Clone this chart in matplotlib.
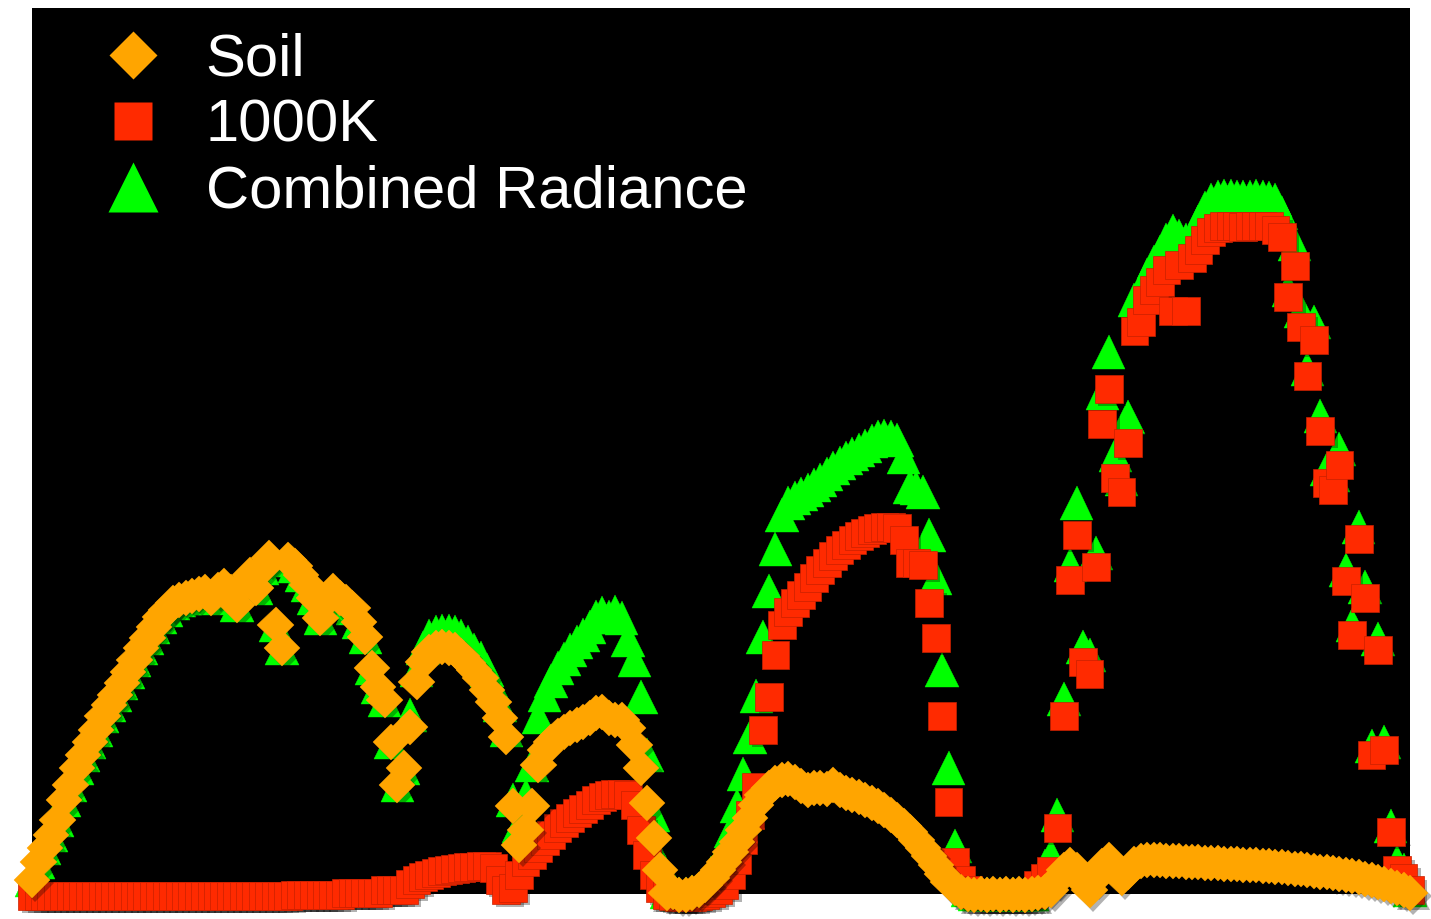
import numpy as np
import matplotlib
matplotlib.use('Agg')
import matplotlib.pyplot as plt
import matplotlib.patheffects as pe
from matplotlib.lines import Line2D

# wavelength grid (nm) shared by all three spectra
wavelength = np.arange(350, 2501, 10)

# radiance, arbitrary units
soil = [
    14, 32, 46, 59, 74, 94, 109, 126, 139, 152, 164, 178,
    189, 199, 211, 222, 234, 246, 256, 267, 277, 284, 291, 294,
    296, 298, 300, 302, 296, 304, 308, 302, 289, 309, 319, 306,
    326, 336, 269, 246, 334, 328, 319, 309, 296, 276, 294, 303,
    296, 292, 286, 272, 257, 226, 207, 194, 152, 109, 126, 167,
    212, 232, 242, 246, 247, 246, 244, 238, 231, 224, 216, 204,
    192, 176, 157, 88, 49, 64, 88, 129, 144, 152, 158, 162,
    166, 169, 172, 176, 181, 182, 176, 174, 174, 166, 149, 126,
    91, 56, 24, 1, 2, -1, -1, 1, 4, 9, 16, 24,
    32, 42, 52, 64, 76, 89, 99, 106, 111, 114, 115, 112,
    108, 104, 106, 106, 105, 109, 104, 101, 99, 97, 94, 91,
    88, 84, 79, 74, 68, 62, 54, 46, 38, 29, 20, 12,
    6, 2, 0, -1, 0, -1, 0, -1, 0, -1, 0, -1,
    0, 1, 2, 4, 14, 24, 29, 24, 12, 4, 16, 28,
    34, 26, 16, 22, 30, 33, 34, 34, 34, 33, 33, 33,
    32, 32, 32, 31, 31, 31, 30, 30, 30, 29, 29, 29,
    28, 28, 27, 27, 26, 25, 25, 24, 23, 22, 22, 21,
    20, 19, 18, 17, 15, 14, 12, 10, 8, 6, 4, 1,
]

blackbody_1000k = [
    -2, -2, -2, -2, -2, -2, -2, -2, -2, -2, -2, -2,
    -2, -2, -2, -2, -2, -2, -2, -2, -2, -2, -2, -2,
    -2, -2, -2, -2, -2, -2, -2, -2, -2, -2, -2, -2,
    -2, -2, -2, -2, -2, -1, -1, -1, -1, -1, -1, -1,
    -1, 1, 1, 1, 1, 1, 1, 4, 4, 4, 4, 10,
    14, 17, 19, 21, 23, 24, 25, 26, 27, 27, 28, 28,
    26, 14, 4, 6, 19, 32, 39, 46, 53, 59, 66, 71,
    76, 81, 85, 89, 94, 97, 99, 100, 100, 99, 89, 64,
    39, 19, 6, -1, -2, -3, -3, -3, -2, -1, 1, 4,
    9, 19, 34, 54, 79, 107, 164, 197, 239, 269, 282, 291,
    299, 307, 316, 324, 331, 338, 344, 349, 354, 358, 361, 364,
    366, 367, 367, 366, 354, 331, 331, 329, 291, 256, 178, 92,
    32, 14, 4, 0, 0, 0, 0, 0, 0, 0, 0, 0,
    0, 9, 16, 23, 66, 178, 314, 359, 232, 220, 327, 470,
    505, 416, 402, 451, 563, 572, 594, 604, 612, 624, 583, 629,
    583, 636, 644, 654, 662, 666, 668, 668, 668, 667, 668, 668,
    668, 668, 664, 657, 597, 628, 567, 518, 554, 463, 411, 404,
    429, 313, 259, 355, 296, 139, 244, 144, 62, 24, 16, 4,
]

combined = [
    14, 32, 46, 59, 74, 94, 109, 126, 139, 152, 164, 178,
    189, 199, 211, 222, 234, 246, 256, 267, 277, 284, 291, 294,
    296, 298, 300, 302, 296, 304, 308, 302, 289, 309, 319, 306,
    326, 336, 269, 246, 334, 328, 319, 309, 296, 276, 294, 303,
    296, 292, 286, 272, 257, 226, 207, 194, 152, 109, 126, 179,
    224, 246, 258, 262, 263, 263, 262, 258, 252, 244, 236, 224,
    209, 189, 164, 94, 68, 98, 129, 177, 199, 213, 226, 235,
    244, 252, 259, 267, 277, 281, 277, 282, 276, 254, 234, 197,
    139, 79, 32, 2, 2, 0, 0, 2, 5, 11, 21, 32,
    43, 63, 88, 120, 157, 198, 257, 303, 345, 379, 391, 396,
    400, 404, 409, 414, 420, 426, 431, 436, 440, 444, 448, 453,
    457, 458, 457, 454, 437, 407, 406, 402, 359, 316, 224, 126,
    48, 18, 4, 0, 0, 0, 0, 0, 0, 0, 0, 0,
    0, 14, 28, 38, 79, 195, 329, 391, 247, 239, 341, 501,
    542, 439, 415, 477, 594, 604, 619, 632, 642, 654, 663, 658,
    654, 658, 672, 686, 694, 697, 698, 698, 697, 697, 697, 698,
    697, 696, 694, 681, 604, 650, 583, 525, 572, 478, 425, 419,
    445, 324, 269, 367, 307, 148, 255, 152, 68, 32, 24, 4,
]

labels = ['Soil', '1000K', 'Combined Radiance']
colors = ['#FFA500', '#FF2A00', '#00FF00']

W, H = 1431, 919
fig = plt.figure(figsize=(W / 100, H / 100), dpi=100, facecolor='white')
ax = fig.add_axes([32 / W, (H - 893.5) / H, 1378 / W, 885.5 / H])
ax.set_facecolor('black')
ax.set_xlim(350, 2500)
ax.set_ylim(0.5, 886)
ax.set_xticks([])
ax.set_yticks([])
for spine in ax.spines.values():
    spine.set_visible(False)

shadow = [pe.SimplePatchShadow(offset=(2.5, -2.5), shadow_rgbFace='black', alpha=0.3),
          pe.Normal()]

# drawing order: combined at the back, soil on top
ax.plot(wavelength, combined, ls='none', marker='^', ms=24,
        mfc=colors[2], mec=colors[2], mew=0.3, clip_on=False, zorder=3,
        path_effects=shadow)
ax.plot(wavelength, blackbody_1000k, ls='none', marker='s', ms=20,
        mfc=colors[1], mec='#C82000', mew=0.5, clip_on=False, zorder=4,
        path_effects=shadow)
ax.plot(wavelength, soil, ls='none', marker='D', ms=18.5,
        mfc=colors[0], mec=colors[0], mew=0.3, clip_on=False, zorder=5,
        path_effects=shadow)

handles = [
    Line2D([], [], ls='none', marker='D', ms=24.5, mfc=colors[0], mec='none'),
    Line2D([], [], ls='none', marker='s', ms=28, mfc=colors[1], mec='none'),
    Line2D([], [], ls='none', marker='^', ms=36, mfc=colors[2], mec='none'),
]
leg = ax.legend(handles, labels, loc='upper left',
                bbox_to_anchor=(97 / W, 1 - 33 / H), bbox_transform=fig.transFigure,
                frameon=False, borderaxespad=0, borderpad=0,
                handlelength=1.2, handletextpad=0.62, labelspacing=0.18,
                prop={'family': 'Liberation Sans', 'size': 43})
for text in leg.get_texts():
    text.set_color('white')

fig.savefig('out.png', dpi=100, facecolor='white')
